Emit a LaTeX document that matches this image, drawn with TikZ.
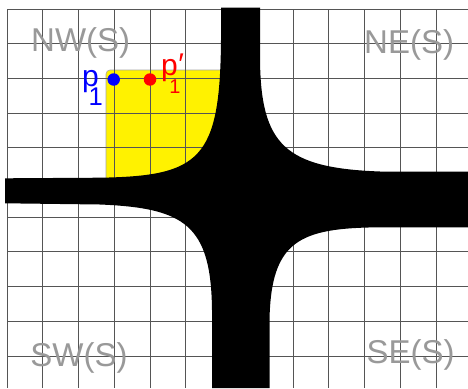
\documentclass[tikz,border=0pt]{standalone}
\usepackage{fontspec}
\newfontfamily\labfont{Liberation Sans}
\definecolor{labgray}{RGB}{153,153,153}
\definecolor{gridgray}{RGB}{85,85,85}
\tikzset{
  gridline/.style={draw=gridgray, line width=1pt},
  quadlabel/.style={text=labgray, font=\labfont\fontsize{33}{33}\selectfont, inner sep=0pt, anchor=base west},
  pointlabel/.style={font=\labfont\fontsize{30}{30}\selectfont, inner sep=0pt, anchor=base west},
  ptdot/.style={circle, inner sep=0pt, minimum size=12.5pt},
  crossfill/.style={fill=black},
  zonefill/.style={fill=yellow, draw=gray!70, line width=0.6pt, rounded corners=4pt}
}
\begin{document}
\begin{tikzpicture}[x=1pt,y=-1pt]
\useasboundingbox (0,0) rectangle (468,388);
\fill[white] (0,0) rectangle (468,388);
% yellow zone
\filldraw[zonefill] (106,70) rectangle (226,182);
% grid
\foreach \i in {0,...,12} \draw[gridline] ({7+35.75*\i},9) -- ({7+35.75*\i},388);
\foreach \j in {0,...,10} \draw[gridline] (7,{9+34.7*\j}) -- (468,{9+34.7*\j});
% black cross
\fill[crossfill] (221,7.5) -- (260,7.5) -- (260,60)
  .. controls (261,145) and (285,168) .. (380,171.5) -- (468,171.5)
  -- (468,227.3) -- (380,227.3)
  .. controls (300,228) and (271,240) .. (269.5,320) -- (269.5,388)
  -- (212,388) -- (212,310)
  .. controls (211,225) and (185,208) .. (100,204.5) -- (5,203.3)
  -- (5,178.3) -- (100,177.7)
  .. controls (200,176) and (220,160) .. (221,40) -- cycle;
% points
\node[ptdot, fill=blue] (p1) at (113.7,79.5) {};
\node[ptdot, fill=red] (p1p) at (150,79.5) {};
% point labels
\node[pointlabel, text=blue] (lp1) at (82,86) {p\kern-10.2pt\raisebox{-19pt}{\fontsize{25.6}{25.6}\selectfont 1}};
\node[pointlabel, text=red] (lp1p) at (161,75) {p\kern-8.6pt\raisebox{-18.3pt}{\fontsize{20}{20}\selectfont 1}\kern-2pt\raisebox{0.5pt}{\char"2032}};
% quadrant labels
\node[quadlabel] (nw) at (31,51.7) {NW(S)};
\node[quadlabel] (ne) at (364,53.3) {NE(S)};
\node[quadlabel] (sw) at (30.2,366.7) {SW(S)};
\node[quadlabel] (se) at (366.5,363.3) {SE(S)};
\end{tikzpicture}
\end{document}
